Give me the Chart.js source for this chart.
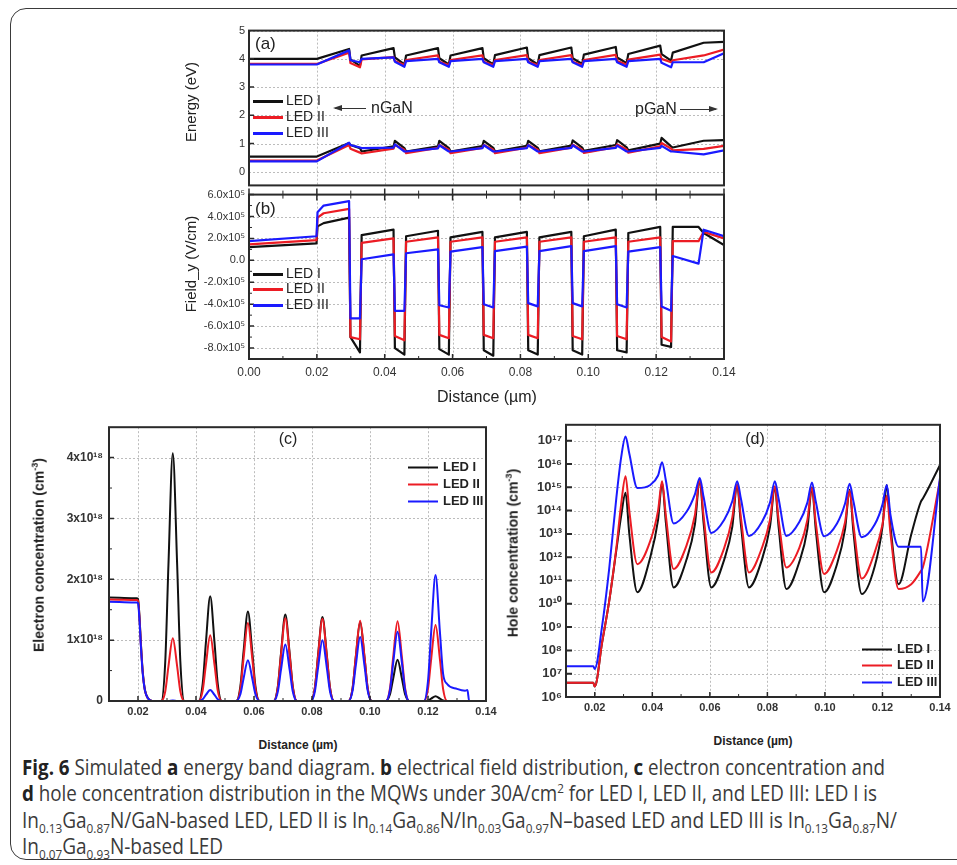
<!DOCTYPE html>
<html>
<head>
<meta charset="utf-8">
<title>Fig. 6 – MQW band diagram, field and carrier profiles</title>
<script src="https://cdn.jsdelivr.net/npm/chart.js@4.4.0/dist/chart.umd.min.js"></script>
<style>
  html, body { margin: 0; padding: 0; background: #fff; }
  body { width: 957px; height: 865px; position: relative; overflow: hidden;
         font-family: 'Liberation Sans', Arial, sans-serif; color: #222; }
  .frame { position: absolute; left: 10px; top: 8px; width: 1000px; height: 852px;
           border: 1.5px solid #3a3a3a; border-radius: 16px; box-sizing: border-box; }
  .box { position: absolute; }
  .box canvas { display: block; }
  .txt { position: absolute; white-space: nowrap; line-height: 1; transform: translateY(-50%); }
  .ct  { position: absolute; white-space: nowrap; line-height: 1; transform: translate(-50%, -50%); }
  .vt  { position: absolute; white-space: nowrap; line-height: 1; transform: translate(-50%, -50%) rotate(-90deg); }
  .vt sup { font-size: 65%; }
  .leg { position: absolute; white-space: nowrap; line-height: 1; transform: translateY(-50%); }
  .leg i { display: inline-block; width: 30px; height: 2.5px; vertical-align: middle; margin-right: 3px; }
  .leg.b { font-weight: bold; font-size: 13px; }
  .leg.b i { margin-right: 5px; height: 2px; }
  .arr { position: absolute; height: 1.2px; background: #333; }
  .arr.l::before { content: ''; position: absolute; left: -2px; top: -3px;
                   border-right: 9px solid #333; border-top: 3.6px solid transparent; border-bottom: 3.6px solid transparent; }
  .arr.r::after  { content: ''; position: absolute; right: -2px; top: -3px;
                   border-left: 9px solid #333; border-top: 3.6px solid transparent; border-bottom: 3.6px solid transparent; }
  .cap { position: absolute; left: 22px; font-family: 'Open Sans', sans-serif; font-size: 21px; line-height: 26px;
         color: #3a3a3a; white-space: nowrap; transform-origin: 0 50%; }
  .cap b { color: #222; }
  .cap sub, .cap sup { font-size: 62%; line-height: 0; }
</style>
</head>
<body>
<div class="frame"></div>

<div class="box" style="left:150px;top:184px"><canvas id="chartB" width="600" height="226"></canvas></div>
<div class="box" style="left:150px;top:20px"><canvas id="chartA" width="600" height="176"></canvas></div>
<div class="box" style="left:20px;top:414px"><canvas id="chartC" width="490" height="320"></canvas></div>
<div class="box" style="left:520px;top:413px"><canvas id="chartD" width="437" height="320"></canvas></div>

<!-- panel (a) / (b) annotations -->
<div class="txt" style="left:255px;top:43px;font-size:17px">(a)</div>
<div class="txt" style="left:255px;top:208px;font-size:17px">(b)</div>
<div class="leg" style="left:253px;top:100px;font-size:14px"><i style="background:#111"></i>LED I</div>
<div class="leg" style="left:253px;top:116px;font-size:14px"><i style="background:#ec1c24"></i>LED II</div>
<div class="leg" style="left:253px;top:132px;font-size:14px"><i style="background:#1a1aff"></i>LED III</div>
<div class="leg" style="left:253px;top:273px;font-size:14px"><i style="background:#111"></i>LED I</div>
<div class="leg" style="left:253px;top:288px;font-size:14px"><i style="background:#ec1c24"></i>LED II</div>
<div class="leg" style="left:253px;top:304px;font-size:14px"><i style="background:#1a1aff"></i>LED III</div>
<div class="arr l" style="left:335px;top:108px;width:31px"></div>
<div class="txt" style="left:371px;top:108px;font-size:16px">nGaN</div>
<div class="txt" style="left:635px;top:109px;font-size:16px">pGaN</div>
<div class="arr r" style="left:680px;top:109px;width:36px"></div>
<div class="vt" style="left:190px;top:102px;font-size:15px">Energy (eV)</div>
<div class="vt" style="left:190px;top:264px;font-size:15px">Field_y (V/cm)</div>
<div class="ct" style="left:487px;top:397px;font-size:16px">Distance (µm)</div>

<!-- panel (c) / (d) annotations -->
<div class="ct" style="left:288px;top:439px;font-size:16px">(c)</div>
<div class="ct" style="left:755px;top:439px;font-size:16px">(d)</div>
<div class="leg b" style="left:408px;top:466px"><i style="background:#111"></i>LED I</div>
<div class="leg b" style="left:408px;top:483px"><i style="background:#ec1c24"></i>LED II</div>
<div class="leg b" style="left:408px;top:500px"><i style="background:#1a1aff"></i>LED III</div>
<div class="leg b" style="left:862px;top:648px"><i style="background:#111"></i>LED I</div>
<div class="leg b" style="left:862px;top:664px"><i style="background:#ec1c24"></i>LED II</div>
<div class="leg b" style="left:862px;top:681px"><i style="background:#1a1aff"></i>LED III</div>
<div class="vt" style="left:38px;top:555px;font-size:14px;font-weight:bold">Electron concentration (cm<sup>-3</sup>)</div>
<div class="vt" style="left:512px;top:553px;font-size:14px;font-weight:bold">Hole concentration (cm<sup>-3</sup>)</div>
<div class="ct" style="left:298px;top:745px;font-size:12px;font-weight:bold">Distance (µm)</div>
<div class="ct" style="left:753px;top:741px;font-size:12px;font-weight:bold">Distance (µm)</div>

<!-- caption -->
<div class="cap" data-w="863" style="top:754px"><b>Fig. 6</b> Simulated <b>a</b> energy band diagram. <b>b</b> electrical field distribution, <b>c</b> electron concentration and</div>
<div class="cap" data-w="855" style="top:780px"><b>d</b> hole concentration distribution in the MQWs under 30A/cm<sup>2</sup> for LED I, LED II, and LED III: LED I is</div>
<div class="cap" data-w="875" style="top:807px">In<sub>0.13</sub>Ga<sub>0.87</sub>N/GaN-based LED, LED II is In<sub>0.14</sub>Ga<sub>0.86</sub>N/In<sub>0.03</sub>Ga<sub>0.97</sub>N–based LED and LED III is In<sub>0.13</sub>Ga<sub>0.87</sub>N/</div>
<div class="cap" style="top:833px">In<sub>0.07</sub>Ga<sub>0.93</sub>N-based LED</div>

<script>
// ── Axis ticks ───────────────────────────────────────────────────────────────

const DIST_TICKS        = [0, 0.02, 0.04, 0.06, 0.08, 0.10, 0.12, 0.14];
const DIST_TICK_LABELS  = ['0.00', '0.02', '0.04', '0.06', '0.08', '0.10', '0.12', '0.14'];
const DIST_MINOR        = [0.01, 0.03, 0.05, 0.07, 0.09, 0.11, 0.13];
const DIST2_TICKS       = [0.02, 0.04, 0.06, 0.08, 0.10, 0.12, 0.14];
const DIST2_TICK_LABELS = ['0.02', '0.04', '0.06', '0.08', '0.10', '0.12', '0.14'];

const ENERGY_TICKS       = [0, 1, 2, 3, 4, 5];
const ENERGY_TICK_LABELS = ['0', '1', '2', '3', '4', '5'];

const FIELD_TICKS       = [-8e5, -6e5, -4e5, -2e5, 0, 2e5, 4e5, 6e5];
const FIELD_TICK_LABELS = ['-8.0x10⁵', '-6.0x10⁵', '-4.0x10⁵', '-2.0x10⁵', '0.0', '2.0x10⁵', '4.0x10⁵', '6.0x10⁵'];
const FIELD_MINOR       = [-7e5, -5e5, -3e5, -1e5, 1e5, 3e5, 5e5];

const ELEC_TICKS       = [0, 1e18, 2e18, 3e18, 4e18];
const ELEC_TICK_LABELS = ['0', '1x10¹⁸', '2x10¹⁸', '3x10¹⁸', '4x10¹⁸'];
const ELEC_MINOR       = [0.5e18, 1.5e18, 2.5e18, 3.5e18];

const HOLE_TICKS       = [1e6, 1e7, 1e8, 1e9, 1e10, 1e11, 1e12, 1e13, 1e14, 1e15, 1e16, 1e17];
const HOLE_TICK_LABELS = ['10⁶', '10⁷', '10⁸', '10⁹', '10¹⁰', '10¹¹', '10¹²', '10¹³', '10¹⁴', '10¹⁵', '10¹⁶', '10¹⁷'];

// ── (a) band edges, eV ──────────────────────────────────────────────────────

const BAND_X = [0, 0.0200, 0.0295,
  0.0299, 0.0327, 0.0332, 0.0426, 0.0430, 0.0458, 0.0463, 0.0557,
  0.0561, 0.0589, 0.0594, 0.0688, 0.0692, 0.0720, 0.0725, 0.0819,
  0.0823, 0.0851, 0.0856, 0.0950, 0.0954, 0.0982, 0.0987, 0.1081,
  0.1085, 0.1113, 0.1118, 0.1212, 0.1216, 0.1244, 0.1249, 0.1340, 0.1400];

const ecLED1 = [4.00, 4.00, 4.35, 3.98, 3.75, 4.12, 4.38, 4.05, 3.80, 4.12, 4.38, 4.02, 3.80, 4.12, 4.38, 4.02, 3.80, 4.13,
  4.40, 4.02, 3.80, 4.13, 4.40, 4.02, 3.82, 4.15, 4.42, 4.05, 3.85, 4.17, 4.47, 4.17, 3.94, 4.22, 4.57, 4.60];
const ecLED2 = [3.82, 3.82, 4.22, 3.85, 3.70, 3.98, 4.06, 3.92, 3.78, 3.96, 4.12, 3.90, 3.78, 3.96, 4.12, 3.90, 3.78, 3.96,
  4.13, 3.90, 3.78, 3.96, 4.13, 3.90, 3.78, 3.96, 4.14, 3.92, 3.80, 3.97, 4.15, 4.00, 3.88, 3.95, 4.12, 4.33];
const ecLED3 = [3.80, 3.80, 4.30, 3.95, 3.88, 4.00, 4.05, 3.90, 3.72, 3.92, 4.00, 3.88, 3.72, 3.92, 4.00, 3.88, 3.72, 3.92,
  4.00, 3.88, 3.72, 3.92, 4.00, 3.88, 3.72, 3.92, 4.00, 3.88, 3.72, 3.92, 4.00, 3.86, 3.70, 3.88, 3.88, 4.20];

const evLED1 = [0.54, 0.54, 1.02, 0.95, 0.84, 0.72, 0.90, 1.10, 0.84, 0.72, 0.90, 1.10, 0.84, 0.72, 0.91, 1.10, 0.85, 0.72,
  0.92, 1.10, 0.85, 0.73, 0.93, 1.11, 0.86, 0.74, 0.95, 1.12, 0.87, 0.76, 1.00, 1.20, 0.90, 0.86, 1.10, 1.12];
const evLED2 = [0.40, 0.40, 0.95, 0.82, 0.68, 0.65, 0.82, 0.95, 0.78, 0.66, 0.85, 0.95, 0.78, 0.66, 0.85, 0.95, 0.78, 0.66,
  0.86, 0.95, 0.78, 0.66, 0.86, 0.96, 0.78, 0.67, 0.87, 0.97, 0.79, 0.68, 0.90, 1.02, 0.82, 0.76, 0.81, 0.92];
const evLED3 = [0.37, 0.37, 1.03, 0.95, 0.86, 0.84, 0.86, 0.97, 0.72, 0.72, 0.83, 0.94, 0.72, 0.72, 0.84, 0.94, 0.72, 0.72,
  0.84, 0.94, 0.72, 0.72, 0.85, 0.94, 0.72, 0.72, 0.85, 0.93, 0.72, 0.72, 0.85, 0.92, 0.72, 0.72, 0.62, 0.76];

// ── (b) electric field, V/cm ────────────────────────────────────────────────

const FIELD_X = [0, 0.0199, 0.0202, 0.0220, 0.0295,
  0.0299, 0.0327, 0.0332, 0.0426, 0.0430, 0.0458, 0.0463, 0.0557,
  0.0561, 0.0589, 0.0594, 0.0688, 0.0692, 0.0720, 0.0725, 0.0819,
  0.0823, 0.0851, 0.0856, 0.0950, 0.0954, 0.0982, 0.0987, 0.1081,
  0.1085, 0.1113, 0.1118, 0.1212, 0.1216, 0.1244, 0.1249, 0.1325, 0.1340, 0.1400];

const fieldLED1 = [1.2e5, 1.55e5, 3.1e5, 3.4e5, 3.9e5,
  -7.0e5, -8.4e5, 2.3e5, 2.8e5, -8.0e5, -8.6e5, 2.2e5, 2.7e5,
  -8.1e5, -8.6e5, 2.1e5, 2.6e5, -8.2e5, -8.7e5, 2.1e5, 2.6e5,
  -8.2e5, -8.6e5, 2.1e5, 2.6e5, -8.2e5, -8.6e5, 2.2e5, 2.8e5,
  -8.2e5, -8.4e5, 2.5e5, 3.05e5, -7.7e5, -7.9e5, 3.05e5, 3.05e5, 2.5e5, 1.4e5];
const fieldLED2 = [1.45e5, 1.85e5, 3.9e5, 4.3e5, 4.7e5,
  -7.0e5, -7.2e5, 1.6e5, 2.0e5, -6.9e5, -7.3e5, 1.7e5, 2.1e5,
  -6.8e5, -7.1e5, 1.7e5, 2.1e5, -6.8e5, -7.1e5, 1.7e5, 2.1e5,
  -6.8e5, -7.1e5, 1.7e5, 2.1e5, -6.9e5, -7.2e5, 1.7e5, 2.1e5,
  -6.9e5, -7.2e5, 1.7e5, 2.1e5, -7.0e5, -7.4e5, 1.75e5, 1.75e5, 2.6e5, 2.0e5];
const fieldLED3 = [1.75e5, 2.2e5, 4.4e5, 5.0e5, 5.4e5,
  -5.3e5, -5.3e5, 0.1e5, 0.55e5, -4.6e5, -4.6e5, 0.65e5, 1.0e5,
  -4.1e5, -4.3e5, 0.8e5, 1.2e5, -4.0e5, -4.3e5, 0.85e5, 1.25e5,
  -3.9e5, -4.2e5, 0.85e5, 1.3e5, -3.9e5, -4.2e5, 0.85e5, 1.3e5,
  -4.0e5, -4.3e5, 0.8e5, 1.2e5, -4.2e5, -4.6e5, 0.4e5, -0.3e5, 2.8e5, 2.2e5];

// ── (c) electron concentration, cm^-3 ───────────────────────────────────────

const ELEC_X = [0.0100, 0.0195, 0.0200, 0.0205, 0.0210, 0.0216, 0.0224, 0.0235, 0.0250,
  0.0280, 0.0294, 0.0305, 0.0320, 0.0335, 0.0346, 0.0360,
  0.0409, 0.0423, 0.0434, 0.0449, 0.0464, 0.0475, 0.0489,
  0.0539, 0.0553, 0.0564, 0.0579, 0.0594, 0.0605, 0.0619,
  0.0668, 0.0682, 0.0693, 0.0708, 0.0723, 0.0734, 0.0748,
  0.0796, 0.0810, 0.0821, 0.0836, 0.0851, 0.0862, 0.0876,
  0.0926, 0.0940, 0.0951, 0.0966, 0.0981, 0.0992, 0.1006,
  0.1055, 0.1069, 0.1080, 0.1095, 0.1110, 0.1121, 0.1135,
  0.1186, 0.1200, 0.1211, 0.1226, 0.1241, 0.1252, 0.1266,
  0.1300, 0.1328, 0.1336, 0.1342, 0.1400];

const elecLED1 = [1.70e18, 1.69e18, 1.68e18, 1.40e18, 0.95e18, 0.50e18, 0.18e18, 0.04e18, 0,
  0, 0.65e18, 2.24e18, 4.07e18, 2.24e18, 0.65e18, 0,
  0, 0.28e18, 0.95e18, 1.72e18, 0.95e18, 0.28e18, 0,
  0, 0.24e18, 0.81e18, 1.47e18, 0.81e18, 0.24e18, 0,
  0, 0.23e18, 0.78e18, 1.42e18, 0.78e18, 0.23e18, 0,
  0, 0.22e18, 0.76e18, 1.38e18, 0.76e18, 0.22e18, 0,
  0, 0.21e18, 0.72e18, 1.30e18, 0.72e18, 0.21e18, 0,
  0, 0.11e18, 0.37e18, 0.68e18, 0.37e18, 0.11e18, 0,
  0, 0.01e18, 0.04e18, 0.08e18, 0.04e18, 0.01e18, 0,
  0, 0, 0, 0, 0];
const elecLED2 = [1.67e18, 1.66e18, 1.65e18, 1.37e18, 0.93e18, 0.49e18, 0.17e18, 0.04e18, 0,
  0, 0.16e18, 0.57e18, 1.03e18, 0.57e18, 0.16e18, 0,
  0, 0.17e18, 0.59e18, 1.08e18, 0.59e18, 0.17e18, 0,
  0, 0.20e18, 0.70e18, 1.28e18, 0.70e18, 0.20e18, 0,
  0, 0.22e18, 0.75e18, 1.36e18, 0.75e18, 0.22e18, 0,
  0, 0.22e18, 0.74e18, 1.35e18, 0.74e18, 0.22e18, 0,
  0, 0.21e18, 0.73e18, 1.32e18, 0.73e18, 0.21e18, 0,
  0, 0.21e18, 0.72e18, 1.31e18, 0.72e18, 0.21e18, 0,
  0, 0.20e18, 0.69e18, 1.25e18, 0.69e18, 0.20e18, 0,
  0, 0, 0, 0, 0];
const elecLED3 = [1.63e18, 1.62e18, 1.61e18, 1.34e18, 0.90e18, 0.47e18, 0.17e18, 0.04e18, 0,
  0, 0, 0, 0.01e18, 0, 0, 0,
  0, 0.03e18, 0.10e18, 0.18e18, 0.10e18, 0.03e18, 0,
  0, 0.11e18, 0.37e18, 0.67e18, 0.37e18, 0.11e18, 0,
  0, 0.15e18, 0.51e18, 0.93e18, 0.51e18, 0.15e18, 0,
  0, 0.16e18, 0.55e18, 1.00e18, 0.55e18, 0.16e18, 0,
  0, 0.17e18, 0.58e18, 1.05e18, 0.58e18, 0.17e18, 0,
  0, 0.18e18, 0.63e18, 1.14e18, 0.63e18, 0.18e18, 0,
  0, 0.33e18, 1.14e18, 2.07e18, 1.14e18, 0.45e18, 0.28e18,
  0.20e18, 0.17e18, 0.18e18, 0, 0];

// ── (d) hole concentration, cm^-3 (log axis) ────────────────────────────────

const HOLE_X = [0.0100, 0.0195, 0.0200, 0.0225, 0.0250, 0.0275, 0.0292,
  0.0307, 0.0320, 0.0348, 0.0393, 0.0420,
  0.0434, 0.0447, 0.0474, 0.0519, 0.0548,
  0.0565, 0.0578, 0.0605, 0.0650, 0.0678,
  0.0695, 0.0708, 0.0736, 0.0781, 0.0809,
  0.0826, 0.0839, 0.0866, 0.0911, 0.0939,
  0.0955, 0.0968, 0.0997, 0.1042, 0.1070,
  0.1086, 0.1099, 0.1128, 0.1173, 0.1200,
  0.1215, 0.1228, 0.1256, 0.1300, 0.1334, 0.1340, 0.1400];

const holeLED1 = [4.1e6, 4.1e6, 2.8e6, 2e8, 1.26e10, 2e12, 6.3e13,
  5.8e14, 1e13, 3.1e10, 1e12, 4e13,
  1.6e15, 3.2e13, 5e10, 7.9e11, 2.5e13,
  2e15, 3.2e13, 5e10, 7.9e11, 2e13,
  1.26e15, 2.5e13, 5e10, 7.9e11, 2e13,
  1e15, 2e13, 4.3e10, 6.3e11, 1.6e13,
  1e15, 1.6e13, 3.1e10, 5e11, 1.6e13,
  7.9e14, 1.26e13, 2.6e10, 4e11, 2e13,
  1.26e15, 2e13, 6.9e10, 9.5e12, 2.5e14, 3.2e14, 9.1e15];
const holeLED2 = [4.1e6, 4.1e6, 2.8e6, 2e8, 1.26e10, 2.5e12, 2e14,
  3e15, 1e14, 5e11, 5e12, 1e14,
  1.8e15, 6.3e13, 3.1e11, 3.2e12, 6.3e13,
  2.1e15, 6.3e13, 2.2e11, 2.5e12, 5e13,
  1.3e15, 5e13, 2.2e11, 2.5e12, 4e13,
  1.1e15, 4e13, 3.6e11, 2.5e12, 4e13,
  9.5e14, 3.2e13, 1.9e11, 2e12, 3.2e13,
  6.9e14, 2.5e13, 1.2e11, 1.6e12, 2.5e13,
  4.3e14, 1e13, 4.3e10, 6.9e10, 2.6e11, 3.5e11, 2e15];
const holeLED3 = [2.1e7, 2.1e7, 1.6e7, 1e9, 3.1e11, 3.5e14, 2e16,
  1.5e17, 2.8e16, 9.3e14, 1.26e15, 3.2e15,
  1.2e16, 2e15, 2.8e13, 8.9e13, 5e14,
  2.5e15, 4e14, 1.1e13, 4e13, 2.5e14,
  1.8e15, 3.2e14, 8.1e12, 3.2e13, 2.2e14,
  1.8e15, 3.2e14, 8.1e12, 3.2e13, 2.2e14,
  1.6e15, 2.5e14, 7.9e12, 2.8e13, 2e14,
  1.4e15, 2.5e14, 7.1e12, 2.5e13, 1.8e14,
  1.26e15, 6.3e13, 2.8e12, 2.8e12, 2.8e12, 1.26e10, 2.5e15];

// ── Styling ─────────────────────────────────────────────────────────────────

const BLACK = '#111111';
const RED   = '#ec1c24';
const BLUE  = '#1a1aff';
const FONT  = "'Liberation Sans', Arial, sans-serif";

function series(xs, ys, color, width, smooth) {
  return {
    data: xs.map((x, i) => ({ x, y: ys[i] })),
    borderColor: color,
    borderWidth: width,
    borderJoinStyle: 'round',
    pointRadius: 0,
    fill: false,
    tension: 0,
    cubicInterpolationMode: smooth ? 'monotone' : 'default',
  };
}

// dotted grid underneath, frame + inward ticks on top
const panelFrame = {
  id: 'panelFrame',
  beforeDatasetsDraw(chart, _a, o) {
    const { ctx, chartArea: a, scales: { x, y } } = chart;
    ctx.save();
    ctx.strokeStyle = '#bcbcbc';
    ctx.lineWidth = 1;
    ctx.setLineDash([2, 2]);
    ctx.beginPath();
    (o.gridX || []).forEach(v => {
      const p = Math.round(x.getPixelForValue(v)) + 0.5;
      ctx.moveTo(p, a.top); ctx.lineTo(p, a.bottom);
    });
    (o.gridY || []).forEach(v => {
      const p = Math.round(y.getPixelForValue(v)) + 0.5;
      ctx.moveTo(a.left, p); ctx.lineTo(a.right, p);
    });
    ctx.stroke();
    ctx.restore();
  },
  afterDatasetsDraw(chart, _a, o) {
    const { ctx, chartArea: a, scales: { x, y } } = chart;
    ctx.save();
    ctx.strokeStyle = '#2a2a2a';

    const xt = (vals, len, w, top) => {
      ctx.lineWidth = w;
      ctx.beginPath();
      vals.forEach(v => {
        const p = x.getPixelForValue(v);
        if (top) { ctx.moveTo(p, a.top - len); ctx.lineTo(p, a.top + len); }
        else     { ctx.moveTo(p, a.bottom);    ctx.lineTo(p, a.bottom - len); }
      });
      ctx.stroke();
    };
    const yt = (vals, len, w) => {
      ctx.lineWidth = w;
      ctx.beginPath();
      vals.forEach(v => {
        const p = y.getPixelForValue(v);
        ctx.moveTo(a.left, p); ctx.lineTo(a.left + len, p);
      });
      ctx.stroke();
    };

    if (o.xMajor) xt(o.xMajor, 5, 1.5, false);
    if (o.xMinor) xt(o.xMinor, 3, 1, false);
    if (o.topMajor) xt(o.topMajor, 6, 1.5, true);
    if (o.topMinor) xt(o.topMinor, 4, 1, true);
    if (o.yMajor) yt(o.yMajor, o.yLen || 5, o.yWidth || 1.5);
    if (o.yMinor) yt(o.yMinor, 3, 1);

    ctx.lineWidth = 2;
    ctx.strokeRect(a.left, a.top, a.right - a.left, a.bottom - a.top);
    ctx.restore();
  }
};

function axis(type, min, max, ticks, labels, font, pad, fit) {
  return {
    type, min, max,
    grid: { display: false, drawTicks: false },
    border: { display: false },
    afterBuildTicks: s => { s.ticks = ticks.map(v => ({ value: v })); },
    afterFit: fit,
    ticks: {
      display: labels !== null,
      autoSkip: false, maxRotation: 0, minRotation: 0,
      padding: pad, font, color: '#333',
      callback: (v, i) => labels ? labels[i] : '',
    },
  };
}

function makeChart(id, datasets, scales, padding, frame) {
  return new Chart(document.getElementById(id), {
    type: 'line',
    data: { datasets },
    options: {
      responsive: false,
      animation: false,
      events: [],
      layout: { padding },
      plugins: { legend: { display: false }, tooltip: { enabled: false }, panelFrame: frame },
      scales,
    },
    plugins: [panelFrame],
  });
}

// ── Panels ──────────────────────────────────────────────────────────────────

const regular = sz => ({ family: FONT, size: sz });
const bold    = sz => ({ family: FONT, size: sz, weight: 'bold' });

// (a) energy bands
makeChart('chartA', [
  series(BAND_X, ecLED3, BLUE, 2.2), series(BAND_X, evLED3, BLUE, 2.2),
  series(BAND_X, ecLED2, RED, 2.2),  series(BAND_X, evLED2, RED, 2.2),
  series(BAND_X, ecLED1, BLACK, 2.2), series(BAND_X, evLED1, BLACK, 2.2),
], {
  x: axis('linear', 0, 0.14, DIST_TICKS, null, regular(12), 0, s => { s.height = 0; }),
  y: axis('linear', -0.48, 5, ENERGY_TICKS, ENERGY_TICK_LABELS, regular(11), 4, s => { s.width = 99; }),
}, { top: 10, right: 26, bottom: 2, left: 0 }, {
  gridX: DIST_TICKS.slice(1, -1), gridY: ENERGY_TICKS, yMajor: ENERGY_TICKS.slice(1, -1),
});

// (b) electric field
makeChart('chartB', [
  series(FIELD_X, fieldLED3, BLUE, 2.2),
  series(FIELD_X, fieldLED2, RED, 2.2),
  series(FIELD_X, fieldLED1, BLACK, 2.2),
], {
  x: axis('linear', 0, 0.14, DIST_TICKS, DIST_TICK_LABELS, regular(12), 6, s => { s.height = 51; }),
  y: axis('linear', -9e5, 6e5, FIELD_TICKS, FIELD_TICK_LABELS, regular(11), 4, s => { s.width = 99; }),
}, { top: 10, right: 26, bottom: 0, left: 0 }, {
  gridX: DIST_TICKS.slice(1, -1), gridY: FIELD_TICKS.slice(0, -1),
  xMajor: DIST_TICKS, xMinor: DIST_MINOR, topMajor: DIST_TICKS, topMinor: DIST_MINOR,
  yMajor: FIELD_TICKS, yMinor: FIELD_MINOR,
});

// (c) electron concentration
makeChart('chartC', [
  series(ELEC_X, elecLED3, BLUE, 2, true),
  series(ELEC_X, elecLED2, RED, 2, true),
  series(ELEC_X, elecLED1, BLACK, 2, true),
], {
  x: axis('linear', 0.01, 0.14, DIST2_TICKS, DIST2_TICK_LABELS, bold(11), 4, s => { s.height = 33; }),
  y: axis('linear', 0, 4.5e18, ELEC_TICKS, ELEC_TICK_LABELS, bold(12), 6, s => { s.width = 89; }),
}, { top: 10, right: 24, bottom: 0, left: 0 }, {
  gridX: DIST2_TICKS.slice(0, -1), gridY: ELEC_TICKS.slice(1),
  xMajor: DIST2_TICKS, xMinor: DIST_MINOR.slice(1),
  yMajor: ELEC_TICKS, yMinor: ELEC_MINOR,
});

// (d) hole concentration
makeChart('chartD', [
  series(HOLE_X, holeLED3, BLUE, 2, true),
  series(HOLE_X, holeLED2, RED, 2, true),
  series(HOLE_X, holeLED1, BLACK, 2, true),
], {
  x: axis('linear', 0.01, 0.14, DIST2_TICKS, DIST2_TICK_LABELS, bold(11), 4, s => { s.height = 36; }),
  y: axis('logarithmic', 1e6, 4.8e17, HOLE_TICKS, HOLE_TICK_LABELS, bold(13), 4, s => { s.width = 46; }),
}, { top: 10, right: 17, bottom: 0, left: 0 }, {
  gridX: DIST2_TICKS.slice(0, -1), gridY: HOLE_TICKS.slice(1),
  xMajor: DIST2_TICKS, xMinor: DIST_MINOR.slice(1),
  yMajor: HOLE_TICKS, yLen: 6, yWidth: 2,
});

// ── Caption: squeeze each line to its set width ─────────────────────────────

function fitCaption() {
  let last = 1;
  document.querySelectorAll('.cap').forEach(el => {
    el.style.transform = 'none';
    const w = el.getBoundingClientRect().width;
    if (el.dataset.w) last = +el.dataset.w / w;
    el.style.transform = `scaleX(${last})`;
  });
}
fitCaption();
if (document.fonts) document.fonts.ready.then(fitCaption);
</script>
</body>
</html>
